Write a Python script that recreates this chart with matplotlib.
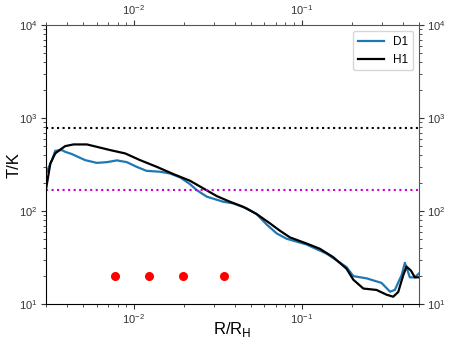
import matplotlib
matplotlib.use("Agg")
import matplotlib.pyplot as plt

plt.rcParams['font.family'] = ['Liberation Sans', 'DejaVu Sans']

# H1 profile (black)
r_h1 = [0.00301, 0.00318, 0.00340, 0.00356, 0.00390, 0.00437, 0.00525, 0.00602,
        0.00722, 0.00888, 0.0109, 0.0137, 0.0172, 0.0216, 0.0260, 0.0312, 0.0374,
        0.0449, 0.0539, 0.0647, 0.0743, 0.0852, 0.107, 0.128, 0.154, 0.185, 0.203,
        0.233, 0.279, 0.321, 0.351, 0.376, 0.403, 0.421, 0.448, 0.472, 0.499]
t_h1 = [180, 326, 417, 445, 500, 521, 521, 491,
        453, 417, 353, 299, 250, 212, 175, 145, 126,
        111, 92.9, 73.8, 61.4, 52.1, 44.8, 39.4, 32.0, 24.0, 18.3,
        14.7, 14.2, 12.6, 12.0, 13.5, 20.5, 25.3, 22.9, 19.4, 19.4]

# D1 profile (blue)
r_d1 = [0.00303, 0.00325, 0.00340, 0.00373, 0.00390, 0.00428, 0.00513, 0.00602,
        0.00691, 0.00792, 0.00908, 0.0104, 0.0119, 0.0143, 0.0164, 0.0189, 0.0216,
        0.0237, 0.0272, 0.0341, 0.0392, 0.0471, 0.0539, 0.0619, 0.0710, 0.0814,
        0.107, 0.141, 0.185, 0.203, 0.244, 0.299, 0.336, 0.359, 0.394, 0.412,
        0.441, 0.472, 0.499]
t_d1 = [265, 353, 445, 453, 434, 410, 353, 330,
        336, 351, 336, 299, 271, 265, 254, 230, 195,
        168, 143, 126, 121, 107, 92.9, 71.6, 57.5, 50.4,
        43.7, 34.8, 25.0, 20.0, 18.9, 16.9, 13.6, 14.2, 20.5, 27.8,
        19.4, 19.4, 21.3]

t_upper = 790
t_lower = 170
r_dots = [0.00774, 0.0123, 0.0196, 0.0346]
t_dots = [20, 20, 20, 20]

fig = plt.figure(figsize=(4.52, 3.44), dpi=100)
ax = fig.add_axes([0.102, 0.116, 0.825, 0.811])

ax.plot(r_d1, t_d1, color='#1f77b4', lw=1.6, label='D1')
ax.plot(r_h1, t_h1, color='black', lw=1.6, label='H1')
ax.axhline(t_upper, color='black', ls=':', lw=1.5)
ax.axhline(t_lower, color='#cc00cc', ls=':', lw=1.5)
ax.plot(r_dots, t_dots, 'o', color='red', ms=5.5, ls='none')

ax.set_xscale('log')
ax.set_yscale('log')
ax.set_xlim(0.003, 0.5)
ax.set_ylim(10, 1e4)

ax.tick_params(which='both', top=True, right=True, labeltop=True, labelright=True,
               direction='out', labelsize=8, labelcolor='#333333', colors='#333333', pad=2.5)
ax.tick_params(which='major', length=3.5, width=0.8)
ax.tick_params(which='minor', length=2, width=0.6)
for side in ['left', 'bottom']:
    ax.spines[side].set_color('black')
for side in ['top', 'right']:
    ax.spines[side].set_color('#555555')

ax.set_xlabel(r'R/R$_\mathrm{H}$', fontsize=12)
ax.set_ylabel('T/K', fontsize=12)
ax.xaxis.set_label_coords(0.5, -0.058)
ax.yaxis.set_label_coords(-0.065, 0.5)
ax.legend(loc='upper right', fontsize=8.5, handlelength=2.2)

fig.savefig('out.png', dpi=100)
